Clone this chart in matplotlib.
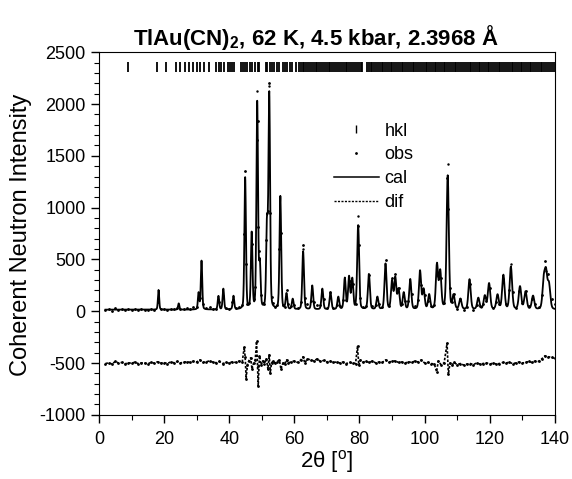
import numpy as np
import matplotlib
matplotlib.use('Agg')
import matplotlib.pyplot as plt
from matplotlib.lines import Line2D

plt.rcParams['font.family'] = ['Liberation Sans', 'DejaVu Sans']
plt.rcParams['mathtext.fontset'] = 'custom'
plt.rcParams['mathtext.rm'] = 'Liberation Sans'
plt.rcParams['mathtext.bf'] = 'Liberation Sans:bold'
plt.rcParams['axes.unicode_minus'] = False

# 布拉格反射位置 (hkl)
hkl_pos = [8.8, 17.8, 20.5, 23.7, 25.0, 26.3, 27.6, 28.9, 30.0, 31.1, 32.4, 33.7,
           36.0, 36.8, 37.5, 38.3, 39.5, 40.2, 41.0, 41.6, 43.6, 44.1, 44.8, 45.6,
           46.3, 47.1, 47.9, 48.7, 49.2, 51.2, 51.7, 52.4, 53.2, 53.9, 54.6, 55.4,
           56.4, 57.2, 57.9, 58.6, 59.4, 60.4, 61.5, 62.0, 62.6, 63.1, 63.7, 64.2,
           64.8, 65.3, 65.9, 66.5, 67.0, 67.6, 68.1, 68.8, 69.3, 69.9, 70.5, 71.0,
           71.6, 72.3, 72.8, 73.4, 74.0, 74.5, 75.1, 75.8, 76.3, 76.9, 77.4, 78.0,
           78.7, 79.2, 79.8, 80.4, 80.9, 82.3, 82.8, 83.4, 84.0, 84.5, 85.1, 85.6,
           86.2, 86.8, 87.3, 87.9, 88.5, 89.0, 89.6, 90.1, 90.7, 91.3, 91.8, 92.4,
           93.0, 93.5, 94.1, 94.6, 95.2, 95.8, 96.3, 96.9, 97.5, 98.0, 98.6, 99.1,
           99.7, 100.3, 100.8, 101.4, 102.0, 102.5, 103.1, 103.6, 104.2, 104.8,
           105.3, 105.9, 106.4, 107.0, 107.6, 108.1, 108.7, 109.3, 109.8, 110.4,
           110.9, 111.5, 112.1, 112.6, 113.2, 113.8, 114.3, 114.9, 115.4, 116.0,
           116.6, 117.1, 117.7, 118.2, 118.8, 119.4, 119.9, 120.5, 121.1, 121.6,
           122.2, 122.7, 123.3, 123.9, 124.4, 125.0, 125.6, 126.1, 126.7, 127.2,
           127.8, 128.4, 128.9, 129.5, 130.0, 130.6, 131.2, 131.7, 132.3, 132.8,
           133.4, 134.0, 134.5, 135.1, 135.7, 136.2, 136.8, 137.3, 137.9, 138.5,
           139.0, 139.6]

# 计算峰位置和强度
peak_pos = [18.3, 24.5, 30.6, 31.5, 36.7, 38.2, 41.3, 44.9, 46.9, 48.6, 49.4,
            51.6, 52.3, 55.7, 57.6, 59.5, 62.7, 65.5, 68.6, 71.1, 73.5, 75.5,
            76.8, 77.8, 79.6, 82.9, 85.5, 88.0, 90.0, 91.0, 92.0, 93.6, 95.6,
            98.6, 99.7, 101.4, 103.8, 104.8, 107.1, 108.9, 111.0, 113.8, 116.5,
            118.5, 119.8, 122.4, 124.2, 126.5, 129.3, 131.0, 133.3, 136.6,
            137.3, 138.2]
peak_height = [190, 60, 160, 470, 130, 200, 130, 1270, 730, 1990, 420,
               800, 2060, 1090, 150, 100, 560, 230, 200, 160, 120, 300,
               310, 290, 810, 340, 120, 440, 270, 300, 190, 160, 290,
               370, 190, 140, 430, 360, 1290, 130, 100, 290, 110,
               130, 250, 140, 330, 410, 220, 170, 130, 260,
               320, 230]
background = 15

# 差值曲线 (obs - cal - 500)
dif_x = [2, 3, 4, 5, 6, 7, 8, 9, 10, 11, 12, 13, 14, 15, 16, 17, 18, 19, 20,
         21, 22, 23, 24, 25, 26, 27, 28, 29, 30, 31, 32, 33, 34, 35, 36, 37,
         38, 39, 40, 41, 42, 43, 44, 44.6, 44.9, 45.2, 45.6, 46, 46.6, 47.0,
         47.5, 48.0, 48.4, 48.7, 48.9, 49.3, 49.8, 50.3, 50.8, 51.4, 51.9,
         52.3, 52.6, 53.0, 53.5, 54, 54.6, 55.4, 55.9, 56.5, 57, 57.6, 58, 59,
         60, 61, 62, 62.7, 63.2, 64, 65, 66, 67, 68, 69, 70, 71, 72, 73, 74,
         75, 76, 77, 78, 78.8, 79.4, 79.8, 80.3, 81, 82, 83, 84, 85, 86, 87,
         88, 89, 90, 91, 92, 93, 94, 95, 96, 97, 98, 99, 100, 101, 102, 103,
         103.7, 104.2, 105, 106, 106.9, 107.3, 107.8, 108.5, 109, 110, 111,
         112, 113, 114, 115, 116, 117, 118, 119, 120, 121, 122, 123, 124, 125,
         126, 127, 128, 129, 130, 131, 132, 133, 134, 135, 136, 137, 138, 139,
         140]
dif_y = [-505, -498, -510, -485, -500, -495, -508, -497, -503, -492, -505,
         -498, -500, -507, -494, -502, -488, -500, -496, -505, -490, -498,
         -485, -500, -492, -488, -495, -482, -490, -470, -495, -488, -480,
         -492, -498, -485, -505, -495, -500, -488, -495, -482, -490, -350,
         -440, -650, -520, -480, -450, -560, -500, -470, -290, -530, -720,
         -430, -520, -480, -505, -460, -560, -420, -600, -500, -480, -500,
         -490, -470, -560, -500, -510, -470, -500, -490, -480, -495, -470,
         -440, -500, -460, -470, -480, -460, -485, -475, -490, -480, -495,
         -490, -500, -490, -505, -495, -500, -505, -340, -520, -470, -490,
         -485, -495, -480, -500, -490, -495, -470, -490, -485, -480, -495,
         -490, -500, -488, -495, -482, -490, -470, -500, -495, -505, -510,
         -585, -480, -515, -500, -310, -610, -500, -520, -495, -515, -505,
         -520, -510, -505, -515, -500, -510, -505, -498, -512, -500, -510,
         -505, -495, -500, -492, -505, -500, -490, -500, -495, -485, -495,
         -480, -485, -460, -430, -440, -445, -455]

# 峰顶处的观测点
obs_top_x = [48.6, 52.3, 62.7, 79.6, 107.1, 126.5, 137.3]
obs_top_y = [2130, 2170, 600, 920, 1425, 455, 390]


def profile(x):
    y = np.full_like(x, background, dtype=float)
    for p, h in zip(peak_pos, peak_height):
        fw = 0.38 + 0.004 * p
        g = np.exp(-4 * np.log(2) * (x - p) ** 2 / fw ** 2)
        l = 1 / (1 + 4 * (x - p) ** 2 / fw ** 2)
        y += h * (0.75 * g + 0.25 * l)
    return y


fig = plt.figure(figsize=(5.72, 4.79), dpi=100)
ax = fig.add_axes([0.173, 0.134, 0.797, 0.757])

xg = np.arange(2, 140.01, 0.05)
ax.plot(xg, profile(xg), color='k', lw=1.3)

dx = np.array(dif_x)
dy = np.array(dif_y)
ax.plot(dx, profile(dx) + dy + 500, '.', color='k', ms=2)
ax.plot(obs_top_x, obs_top_y, '.', color='k', ms=1.5)
ax.plot(dx, dy, color='k', lw=1.2, linestyle=(0, (1.5, 1)))
ax.plot(dx, dy, '.', color='k', ms=2)

ax.vlines(hkl_pos, 2305, 2405, color='k', lw=1.3)

ax.set_xlim(0, 140)
ax.set_ylim(-1000, 2500)
ax.set_xticks(np.arange(0, 141, 20))
ax.set_xticks(np.arange(10, 140, 20), minor=True)
ax.set_yticks(np.arange(-1000, 2501, 500))
ax.set_yticks(np.arange(-1000, 2501, 100), minor=True)
ax.tick_params(which='major', direction='out', length=6, width=1, labelsize=13)
ax.tick_params(axis='x', which='major', pad=6)
ax.tick_params(which='minor', direction='out', length=3.5, width=0.8)
ax.set_xlabel('2θ [$^\\mathregular{o}$]', fontsize=16, labelpad=0)
ax.set_ylabel('Coherent Neutron Intensity', fontsize=17)
ax.yaxis.set_label_coords(-0.147, 0.496)
ax.set_title('TlAu(CN)$_\\mathbf{2}$, 62 K, 4.5 kbar, 2.3968 Å',
             fontsize=16, fontweight='bold', pad=4, x=0.475)

handles = [Line2D([], [], color='k', marker='|', linestyle='none', ms=6),
           Line2D([], [], color='k', marker='.', linestyle='none', ms=2),
           Line2D([], [], color='k', lw=1.1),
           Line2D([], [], color='k', lw=1, linestyle=(0, (1.5, 1)))]
ax.legend(handles, ['hkl', 'obs', 'cal', 'dif'], loc='center left',
          bbox_to_anchor=(0.515, 0.684), frameon=False, fontsize=13,
          handlelength=2.5, handletextpad=0.3, labelspacing=0.38,
          borderpad=0, borderaxespad=0)

plt.savefig('out.png', dpi=100)
